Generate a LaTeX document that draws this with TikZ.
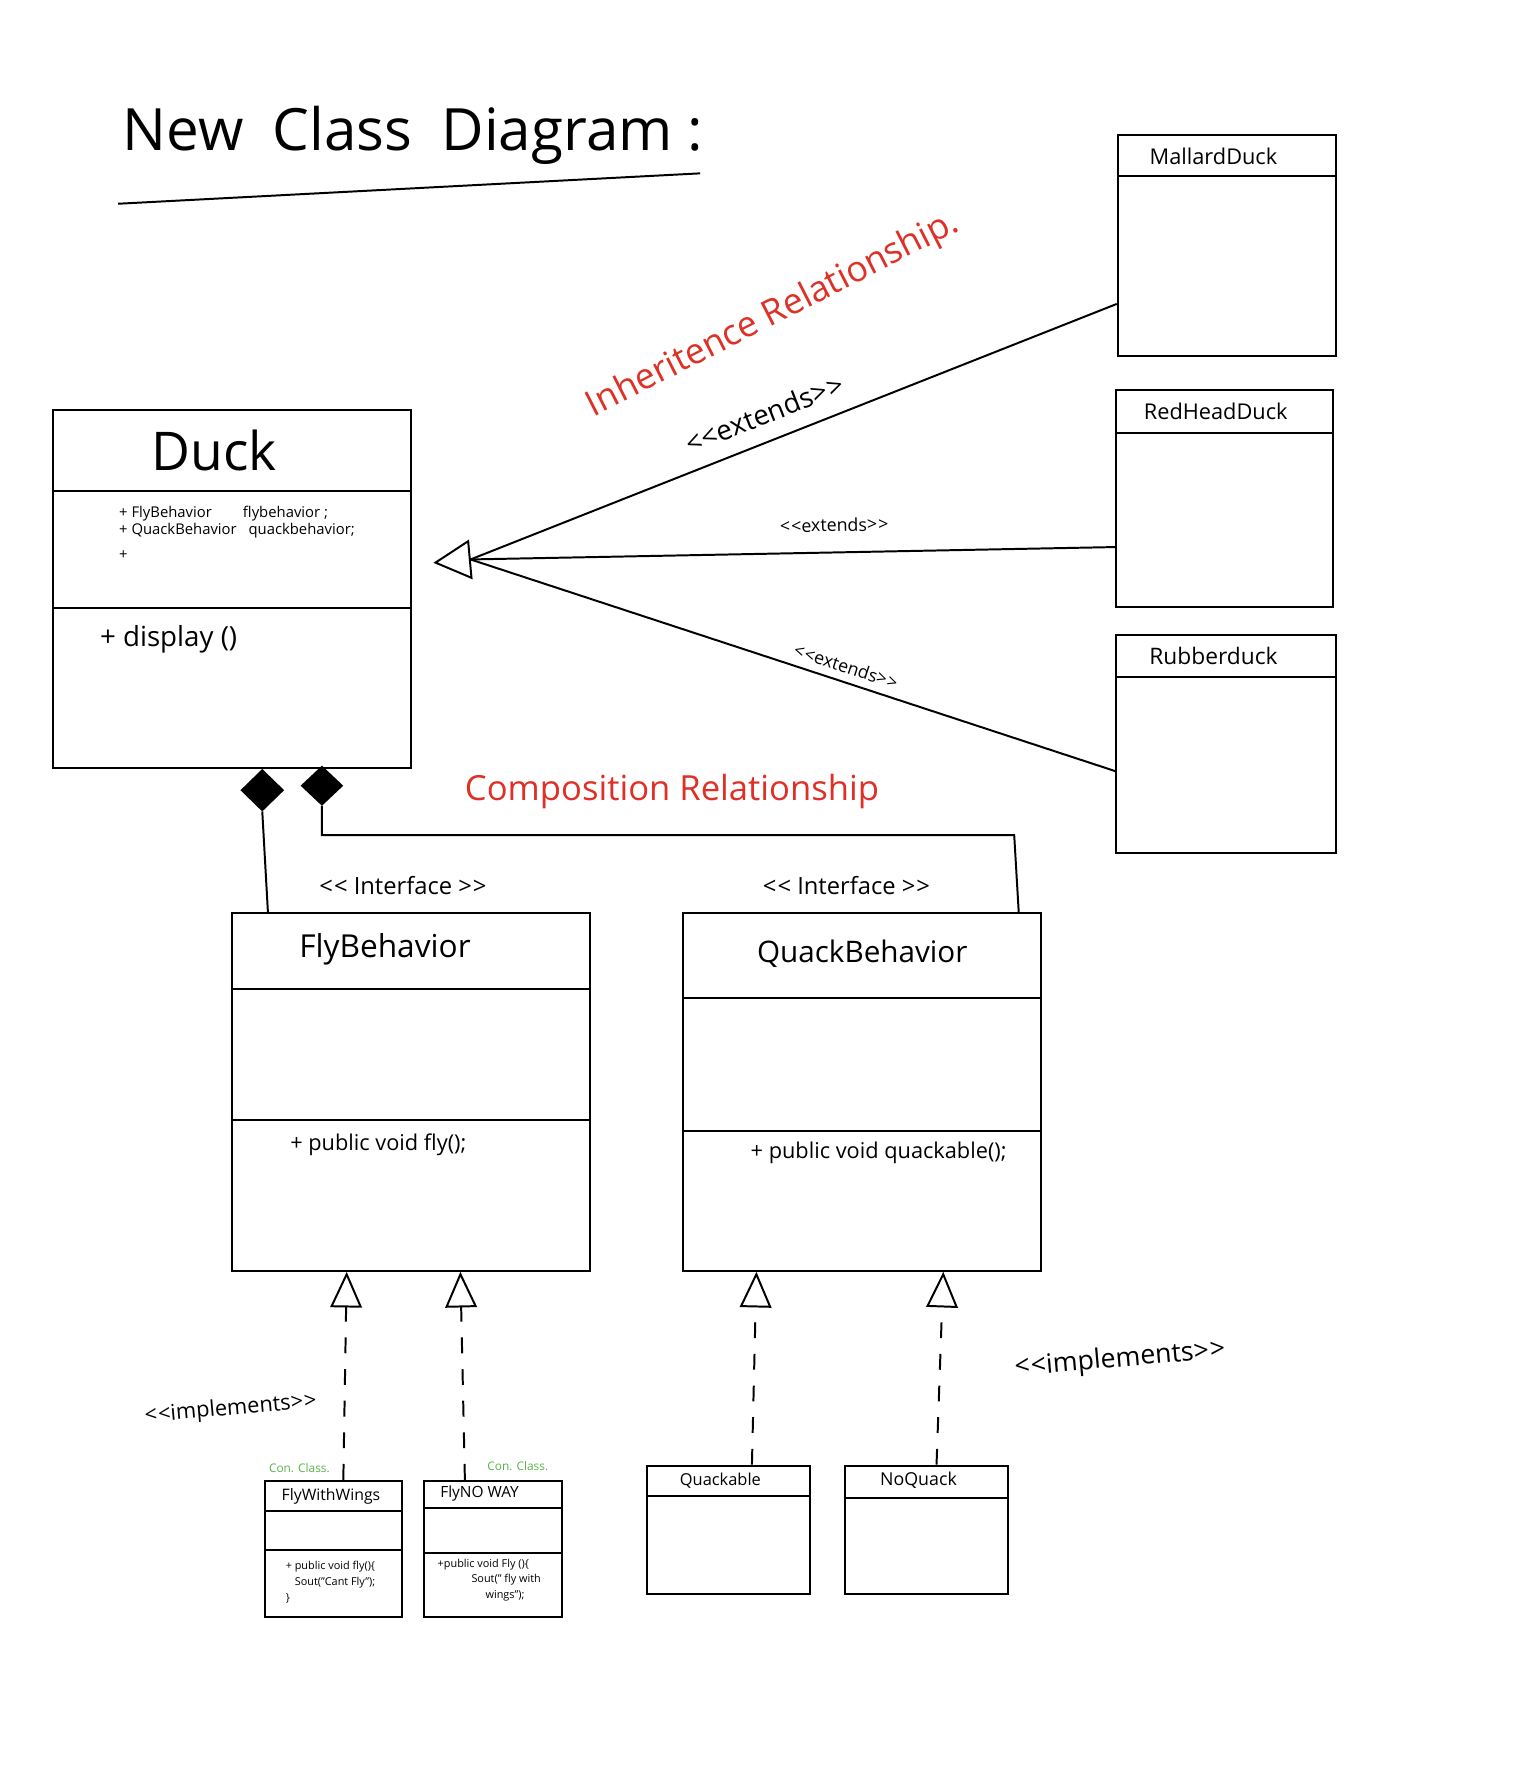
\documentclass[tikz,border=0pt]{standalone}
\usepackage{fontspec}
\setmainfont{Open Sans}
\usetikzlibrary{arrows.meta,shapes.geometric}
\newcommand{\px}{0.02cm}
\newcommand{\lguil}{<\kern.5pt<}
\newcommand{\rguil}{>\kern.5pt>}
\definecolor{relred}{RGB}{222,48,38}
\definecolor{congreen}{RGB}{92,178,72}

\tikzset{
    classbox/.style={draw, rectangle, inner sep=0pt},
    classname/.style={inner sep=0pt, font=\fontsize{15}{18}\selectfont},
    smallname/.style={inner sep=0pt, font=\fontsize{8}{10}\selectfont},
    member/.style={inner sep=0pt, anchor=west, font=\fontsize{11}{13}\selectfont},
    tinycode/.style={inner sep=0pt, anchor=north west, align=left, font=\fontsize{5.5}{8}\selectfont},
    stereo/.style={inner sep=0pt, font=\fontsize{12}{14}\selectfont},
    relnote/.style={inner sep=0pt, text=relred, font=\fontsize{18}{20}\selectfont},
    connote/.style={inner sep=0pt, text=congreen, font=\fontsize{6}{7}\selectfont},
    inherit/.style={-{Triangle[open, length=19pt, width=20pt]}},
    realize/.style={dash pattern=on 8pt off 8pt, -{Triangle[open, length=18pt, width=16pt]}},
    compo/.style={diamond, fill=black, draw, inner sep=0pt}
}

\begin{document}
\begin{tikzpicture}[x=\px, y=-\px, line width=1pt]
    \useasboundingbox (0,0) rectangle (1365,1568);

    % Title
    \node (title) [inner sep=0pt, font=\fontsize{29.5}{34}\selectfont] at (367,120) {New\enspace Class\enspace Diagram :};
    \draw (105,181) -- (622,154);

    % Duck
    \node (duck) [classbox, minimum width=318*\px, minimum height=318*\px] at (206,523) {};
    \draw (duck.west |- 0,436) -- (duck.east |- 0,436);
    \draw (duck.west |- 0,540) -- (duck.east |- 0,540);
    \node (ducktitle) [inner sep=0pt, font=\fontsize{27}{30}\selectfont] at (190,400) {Duck};
    \node (duckattr) [inner sep=0pt, anchor=north west, align=left, font=\fontsize{7.5}{8.5}\selectfont] at (105,449)
        {\makebox[2.2cm][l]{+ FlyBehavior}flybehavior ;\\ \makebox[2.3cm][l]{+ QuackBehavior}quackbehavior;\\[4pt] +};
    \node (duckdisplay) [member, font=\fontsize{14}{16}\selectfont] at (88,568) {+ display ()};

    % Subclasses
    \node (mallard) [classbox, minimum width=194*\px, minimum height=197*\px] at (1090,218) {};
    \draw (mallard.west |- 0,156) -- (mallard.east |- 0,156);
    \node (mallardname) [classname, font=\fontsize{11}{13}\selectfont] at (1078,139) {MallardDuck};
    \node (redhead) [classbox, minimum width=193*\px, minimum height=193*\px] at (1088,443) {};
    \draw (redhead.west |- 0,385) -- (redhead.east |- 0,385);
    \node (redheadname) [classname, font=\fontsize{11}{13}\selectfont] at (1080,365) {RedHeadDuck};
    \node (rubber) [classbox, minimum width=195*\px, minimum height=194*\px] at (1089,661) {};
    \draw (rubber.west |- 0,601) -- (rubber.east |- 0,601);
    \node (rubbername) [classname, font=\fontsize{11.5}{13}\selectfont] at (1078,583) {Rubberduck};

    % Inheritance arrows
    \coordinate (hub) at (418,497);
    \coordinate (hubtip) at (385,500);
    \draw[inherit] (hub) -- (hubtip);
    \draw (hub) -- (mallard.west |- 0,270) node (extmallard) [pos=0.47, sloped, above=8pt, stereo, font=\fontsize{14}{16}\selectfont] {\lguil extends\rguil};
    \draw (hub) -- (redhead.west |- 0,486) node (extredhead) [pos=0.565, sloped, above=10pt, stereo, font=\fontsize{9}{10}\selectfont] {\lguil extends\rguil};
    \draw (hub) -- (rubber.west |- 0,685) node (extrubber) [pos=0.575, sloped, above=4pt, stereo, font=\fontsize{9}{10}\selectfont] {\lguil extends\rguil};
    \node (inhnote) [relnote, rotate=27] at (687,280) {Inheritence Relationship.};

    % Interfaces
    \node (fly) [classbox, minimum width=318*\px, minimum height=318*\px] at (365,970) {};
    \draw (fly.west |- 0,879) -- (fly.east |- 0,879);
    \draw (fly.west |- 0,995) -- (fly.east |- 0,995);
    \node (flyname) [classname, font=\fontsize{16}{18}\selectfont] at (342,843) {FlyBehavior};
    \node (flyop) [member] at (257,1017) {+ public void fly();};
    \node (flystereo) [stereo] at (358,787) {\lguil\ Interface \rguil};
    \node (quack) [classbox, minimum width=318*\px, minimum height=318*\px] at (766,970) {};
    \draw (quack.west |- 0,887) -- (quack.east |- 0,887);
    \draw (quack.west |- 0,1005) -- (quack.east |- 0,1005);
    \node (quackname) [classname] at (766,847) {QuackBehavior};
    \node (quackop) [member] at (666,1024) {+ public void quackable();};
    \node (quackstereo) [stereo] at (752,787) {\lguil\ Interface \rguil};

    % Composition
    \node (dia1) [compo, minimum width=37*\px, minimum height=36*\px] at (233,702) {};
    \node (dia2) [compo, minimum width=36*\px, minimum height=34*\px] at (286,698) {};
    \coordinate (quackbend) at (901,742);
    \draw (dia1.south) -- (fly.north -| 238,0);
    \draw (dia2.south) |- (quackbend) -- (quack.north -| 905,0);
    \node (compnote) [relnote, font=\fontsize{17.5}{20}\selectfont] at (597,703) {Composition Relationship};

    % Concrete classes
    \node (fww) [classbox, minimum width=122*\px, minimum height=121*\px] at (296,1376) {};
    \draw (fww.west |- 0,1342) -- (fww.east |- 0,1342);
    \draw (fww.west |- 0,1377) -- (fww.east |- 0,1377);
    \node (fwwname) [smallname] at (294,1329) {FlyWithWings};
    \node (fwwop) [tinycode] at (253,1386) {+ public void fly()\{\\ \hspace{1.6mm}Sout("Cant Fly");\\ \}};
    \node (fwwcon) [connote] at (266,1304) {Con. Class.};
    \node (fnw) [classbox, minimum width=122*\px, minimum height=121*\px] at (438,1376) {};
    \draw (fnw.west |- 0,1340) -- (fnw.east |- 0,1340);
    \draw (fnw.west |- 0,1380) -- (fnw.east |- 0,1380);
    \node (fnwname) [smallname, font=\fontsize{7.8}{10}\selectfont] at (426,1327) {FlyNO WAY};
    \node (fnwop) [tinycode] at (388,1384) {+public void Fly ()\{\\ \hspace{6mm}Sout(" fly with\\ \hspace{8.5mm}wings");};
    \node (fnwcon) [connote] at (460,1302) {Con. Class.};
    \node (quackable) [classbox, minimum width=145*\px, minimum height=114*\px] at (647,1359) {};
    \draw (quackable.west |- 0,1329) -- (quackable.east |- 0,1329);
    \node (quackablename) [smallname, font=\fontsize{8.3}{10}\selectfont] at (640,1315) {Quackable};
    \node (noquack) [classbox, minimum width=145*\px, minimum height=114*\px] at (823,1359) {};
    \draw (noquack.west |- 0,1331) -- (noquack.east |- 0,1331);
    \node (noquackname) [smallname, font=\fontsize{9}{10}\selectfont] at (816,1315) {NoQuack};

    % Realization arrows
    \draw[realize] (fww.north -| 305,0) -- (fly.south -| 308,0);
    \draw[realize] (fnw.north -| 413,0) -- (fly.south -| 409,0);
    \draw[realize] (quackable.north -| 668,0) -- (quack.south -| 672,0);
    \draw[realize] (noquack.north -| 832,0) -- (quack.south -| 838,0);
    \node (implleft) [stereo, font=\fontsize{11}{13}\selectfont, rotate=5] at (205,1252) {\lguil implements\rguil};
    \node (implright) [stereo, font=\fontsize{13.5}{15}\selectfont, rotate=5] at (995,1208) {\lguil implements\rguil};

\end{tikzpicture}
\end{document}
